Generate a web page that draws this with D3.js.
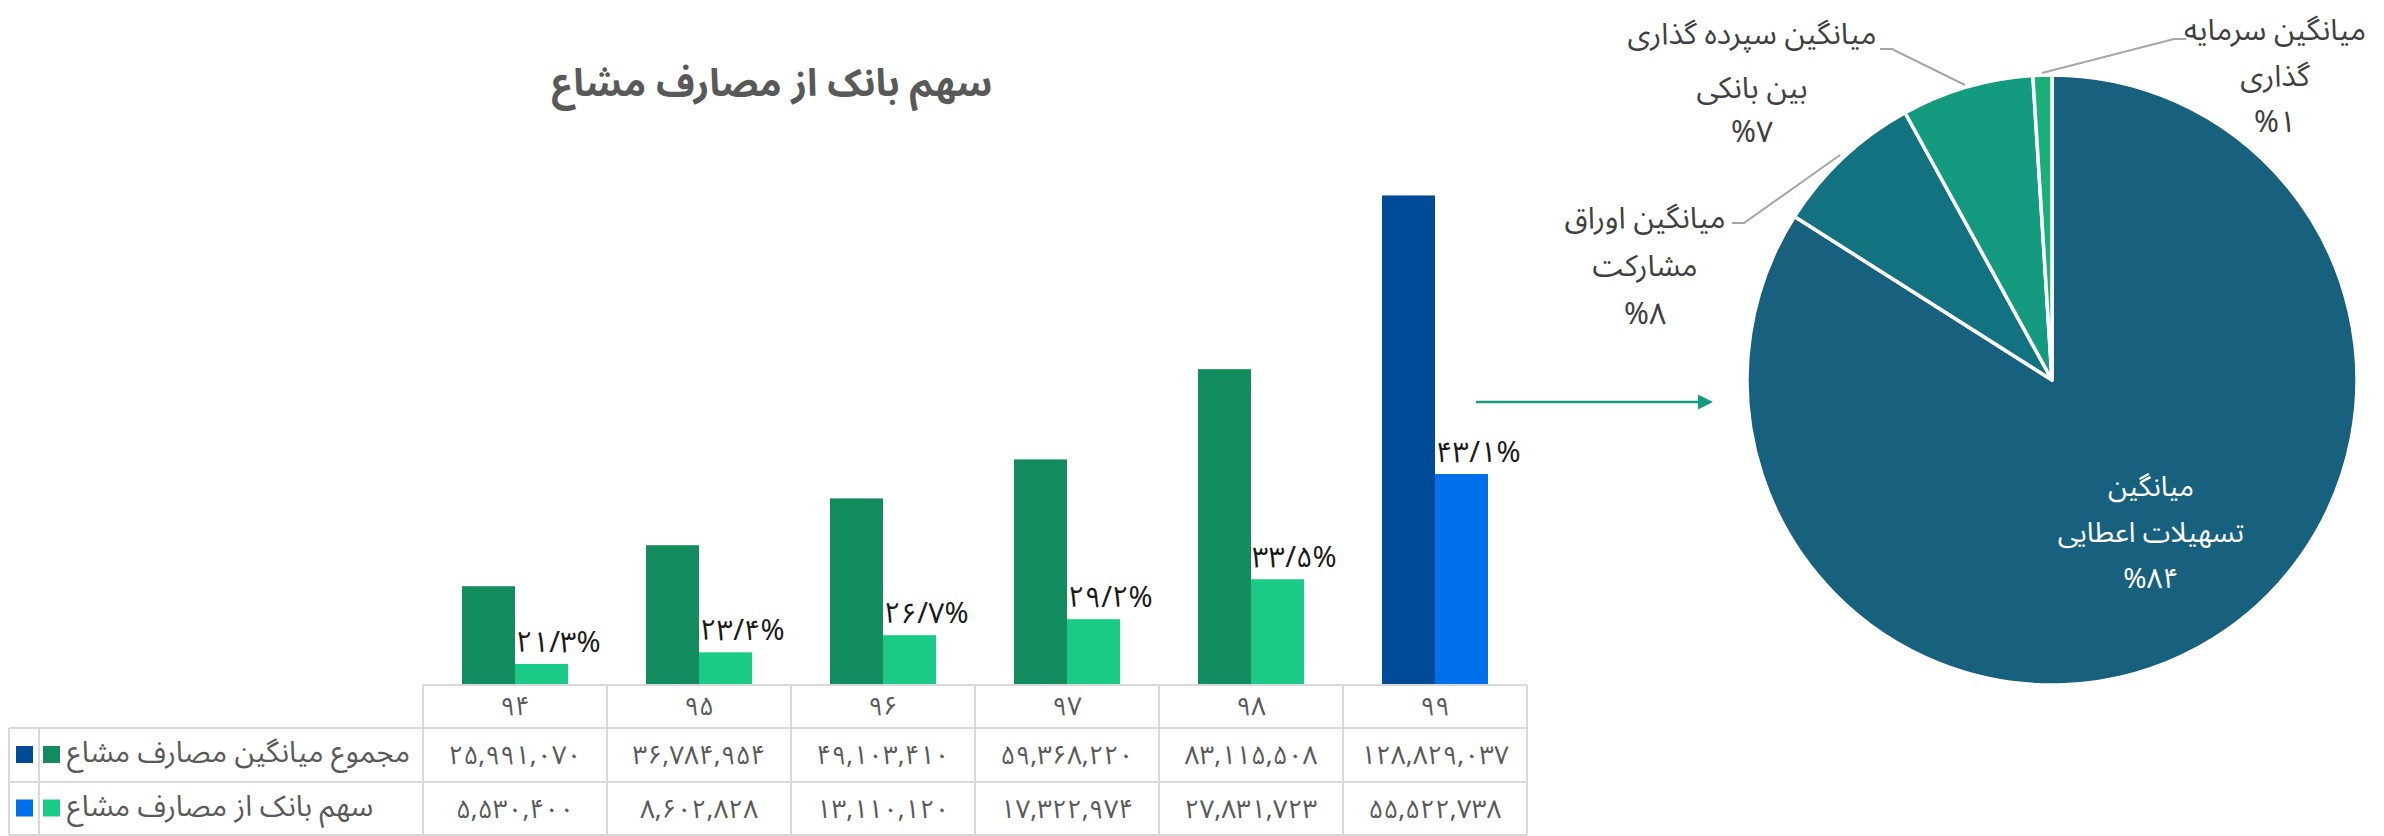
<!DOCTYPE html>
<html>
<head>
<meta charset="utf-8">
<script src="https://cdn.jsdelivr.net/npm/d3@7/dist/d3.min.js"></script>
<style>
  html, body { margin: 0; padding: 0; background: #fff; }
  svg { display: block; }
  text { font-family: "Noto Sans Arabic", "Vazirmatn", "DejaVu Sans", sans-serif; }
</style>
</head>
<body>
<svg id="chart" width="2384" height="836"></svg>
<script>
// ---------- DATA ----------
const title = "سهم بانک از مصارف مشاع";
const years = ["۹۴", "۹۵", "۹۶", "۹۷", "۹۸", "۹۹"];
const seriesNames = ["مجموع میانگین مصارف مشاع", "سهم بانک از مصارف مشاع"];
const totalValues = [25991070, 36784954, 49103410, 59368220, 83115508, 128829037];
const bankValues = [5530400, 8602828, 13110120, 17322974, 27831723, 55522738];
const shareLabels = ["۲۱/۳%", "۲۳/۴%", "۲۶/۷%", "۲۹/۲%", "۳۳/۵%", "۴۳/۱%"];

const pieLabels = [
  ["میانگین", "تسهیلات اعطایی", "%۸۴"],
  ["میانگین اوراق", "مشارکت", "%۸"],
  ["میانگین سپرده گذاری", "بین بانکی", "%۷"],
  ["میانگین سرمایه", "گذاری", "%۱"]
];
const pieValues = [84, 8, 7, 1];

// ---------- STYLE ----------
const colTotal = "#128C5E", colBank = "#1ACB88";
const colTotalLast = "#004B97", colBankLast = "#0071EA";
const pieColors = ["#17607E", "#13727F", "#149A7F", "#19AE7A"];
const gridCol = "#D9D9D9";

const svg = d3.select("#chart");
const toFa = s => s.replace(/\d/g, d => "۰۱۲۳۴۵۶۷۸۹"[+d]);
const fmt = d3.format(",");

// ---------- BAR CHART ----------
const tableLeft = 423, tableRight = 1527;
const baseY = 685;
const x0 = d3.scaleBand().domain(years).range([tableLeft, tableRight]);
const bw = x0.bandwidth();
const x1 = d3.scaleBand().domain([0, 1]).range([bw / 2 - 53, bw / 2 + 53]);
const y = d3.scaleLinear().domain([0, 140e6]).range([baseY, baseY - 140 * 3.80]);

svg.append("text")
  .attr("x", 772).attr("y", 96)
  .attr("text-anchor", "middle")
  .attr("direction", "rtl")
  .attr("font-size", 38).attr("font-weight", "bold")
  .attr("fill", "#595959")
  .text(title);

const g = svg.append("g");
years.forEach((yr, i) => {
  const last = i === years.length - 1;
  g.append("rect")
    .attr("x", x0(yr) + x1(0)).attr("width", x1.bandwidth())
    .attr("y", y(totalValues[i])).attr("height", baseY - y(totalValues[i]))
    .attr("fill", last ? colTotalLast : colTotal);
  g.append("rect")
    .attr("x", x0(yr) + x1(1)).attr("width", x1.bandwidth())
    .attr("y", y(bankValues[i])).attr("height", baseY - y(bankValues[i]))
    .attr("fill", last ? colBankLast : colBank);
  g.append("text")
    .attr("x", x0(yr) + x1(1) + 1)
    .attr("y", y(bankValues[i]) - 12)
    .attr("direction", "ltr")
    .attr("font-size", 29)
    .attr("fill", "#1a1a1a")
    .text(shareLabels[i]);
});

// ---------- DATA TABLE ----------
const rowY = [685, 728, 782, 835];
const t = svg.append("g").attr("stroke", gridCol).attr("stroke-width", 2).attr("fill", "none");
t.append("line").attr("x1", tableLeft).attr("x2", tableRight).attr("y1", rowY[0]).attr("y2", rowY[0]);
[1, 2, 3].forEach(k => t.append("line").attr("x1", 9).attr("x2", tableRight).attr("y1", rowY[k]).attr("y2", rowY[k]));
years.forEach(yr => t.append("line").attr("x1", x0(yr)).attr("x2", x0(yr)).attr("y1", rowY[0]).attr("y2", rowY[3]));
t.append("line").attr("x1", tableRight).attr("x2", tableRight).attr("y1", rowY[0]).attr("y2", rowY[3]);
t.append("line").attr("x1", 9).attr("x2", 9).attr("y1", rowY[1]).attr("y2", rowY[3]);
t.append("line").attr("x1", 39).attr("x2", 39).attr("y1", rowY[1]).attr("y2", rowY[3]);

const tt = svg.append("g").attr("fill", "#595959").attr("font-size", 26).attr("text-anchor", "middle");
years.forEach((yr, i) => {
  const cx = x0(yr) + bw / 2;
  tt.append("text").attr("x", cx).attr("y", (rowY[0] + rowY[1]) / 2 + 8).text(yr);
  tt.append("text").attr("x", cx).attr("y", (rowY[1] + rowY[2]) / 2 + 9).attr("direction", "ltr").text(toFa(fmt(totalValues[i])));
  tt.append("text").attr("x", cx).attr("y", (rowY[2] + rowY[3]) / 2 + 9).attr("direction", "ltr").text(toFa(fmt(bankValues[i])));
});
const legendCols = [[colTotalLast, colTotal], [colBankLast, colBank]];
seriesNames.forEach((name, k) => {
  const cy = (rowY[k + 1] + rowY[k + 2]) / 2;
  svg.append("rect").attr("x", 16).attr("y", cy - 9).attr("width", 17).attr("height", 17).attr("fill", legendCols[k][0]);
  svg.append("rect").attr("x", 43).attr("y", cy - 9).attr("width", 17).attr("height", 17).attr("fill", legendCols[k][1]);
  svg.append("text").attr("x", 67).attr("y", cy + 7)
    .attr("text-anchor", "start").attr("direction", "ltr")
    .attr("font-size", 29).attr("fill", "#595959").text(name);
});

// ---------- ARROW ----------
const defs = svg.append("defs");
defs.append("marker").attr("id", "arr").attr("viewBox", "0 0 10 10")
  .attr("refX", 0).attr("refY", 5).attr("markerWidth", 6).attr("markerHeight", 6)
  .attr("markerUnits", "strokeWidth").attr("orient", "auto")
  .append("path").attr("d", "M0,0 L10,5 L0,10 Z").attr("fill", "#149A7F");
svg.append("line").attr("x1", 1476).attr("x2", 1698).attr("y1", 402).attr("y2", 402)
  .attr("stroke", "#149A7F").attr("stroke-width", 2.5).attr("marker-end", "url(#arr)");

// ---------- PIE ----------
const pcx = 2052, pcy = 380, R = 305;
const pie = d3.pie().sort(null)(pieValues);
const arc = d3.arc().innerRadius(0).outerRadius(R);
const pg = svg.append("g").attr("transform", `translate(${pcx},${pcy})`);
pg.selectAll("path").data(pie).join("path")
  .attr("d", arc).attr("fill", (d, i) => pieColors[i])
  .attr("stroke", "#fff").attr("stroke-width", 3.5).attr("stroke-linejoin", "round");

const leaders = [
  null,
  [[1732, 223], [1744, 223], [1840, 155]],
  [[1880, 49], [1892, 49], [1965, 85]],
  [[2186, 39], [2174, 39], [2042, 73]]
];
leaders.forEach(p => {
  if (!p) return;
  svg.append("path").attr("d", d3.line()(p)).attr("fill", "none")
    .attr("stroke", "#A6A6A6").attr("stroke-width", 2);
});

const labelPos = [
  {x: 2151, y: [496, 542, 588], fill: "#ffffff", size: 28},
  {x: 1645, y: [228, 276, 324], fill: "#404040", size: 30},
  {x: 1752, y: [44, 98, 142], fill: "#404040", size: 30},
  {x: 2275, y: [40, 86, 132], fill: "#404040", size: 30}
];
pieLabels.forEach((lines, i) => {
  lines.forEach((s, j) => {
    svg.append("text").attr("x", labelPos[i].x).attr("y", labelPos[i].y[j])
      .attr("text-anchor", "middle").attr("font-size", labelPos[i].size)
      .attr("fill", labelPos[i].fill).text(s);
  });
});
</script>
</body>
</html>
